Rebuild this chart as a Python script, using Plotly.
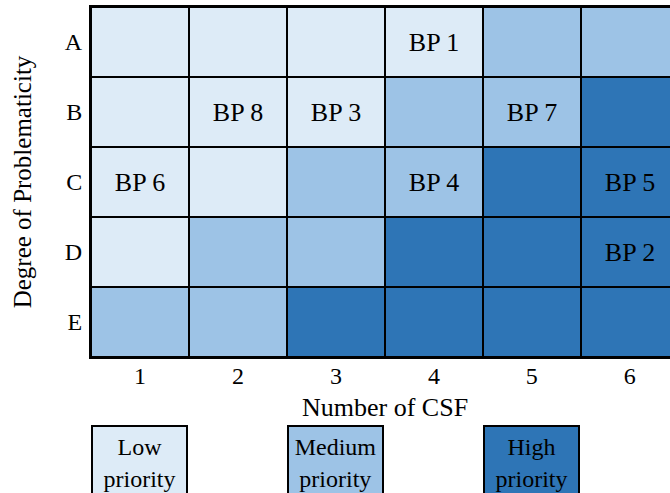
import plotly.graph_objects as go

# ---- data ----
csf_numbers = [1, 2, 3, 4, 5, 6]
csf_labels = ["1", "2", "3", "4", "5", "6"]
problem_levels = ["A", "B", "C", "D", "E"]
# priority: 0 = low, 1 = medium, 2 = high
priority = [
    [0, 0, 0, 0, 1, 1],
    [0, 0, 0, 1, 1, 2],
    [0, 0, 1, 1, 2, 2],
    [0, 1, 1, 2, 2, 2],
    [1, 1, 2, 2, 2, 2],
]
bp_labels = [
    ["", "", "", "BP 1", "", ""],
    ["", "BP 8", "BP 3", "", "BP 7", ""],
    ["BP 6", "", "", "BP 4", "", "BP 5"],
    ["", "", "", "", "", "BP 2"],
    ["", "", "", "", "", ""],
]
legend_names = ["Low<br>priority", "Medium<br>priority", "High<br>priority"]
legend_columns = [1, 3, 5]

colors = ["#DDEBF7", "#9DC3E6", "#2E75B6"]
FONT = "Liberation Serif, Times New Roman, serif"

fig = go.Figure()

# black underlay that shows through the cell gaps as grid lines
fig.add_trace(go.Heatmap(
    x=csf_numbers, y=problem_levels,
    z=[[0] * len(csf_numbers) for _ in problem_levels],
    colorscale=[[0, "black"], [1, "black"]], showscale=False,
    hoverinfo="skip",
))

fig.add_trace(go.Heatmap(
    x=csf_numbers, y=problem_levels, z=priority,
    zmin=0, zmax=2,
    colorscale=[[0, colors[0]], [0.5, colors[1]], [1, colors[2]]],
    showscale=False, xgap=2, ygap=2,
    text=bp_labels, texttemplate="%{text}",
    textfont=dict(family=FONT, size=26, color="black"),
    hovertemplate="CSF %{x}, %{y}: %{text}<extra></extra>",
))

main_bottom = 0.2798

fig.update_layout(
    width=670, height=493,
    margin=dict(l=91, r=0, t=7, b=0),
    paper_bgcolor="white", plot_bgcolor="white",
    font=dict(family=FONT, size=24, color="black"),
    xaxis=dict(
        domain=[0, 1], range=[0.5, 6.41],
        tickvals=csf_numbers, ticktext=csf_labels,
        showline=True, linecolor="black", linewidth=2, mirror=True,
        showgrid=False, zeroline=False, ticks="", ticklabelstandoff=-4,
        tickfont=dict(family=FONT, size=24),
        fixedrange=True,
    ),
    yaxis=dict(
        domain=[main_bottom, 1],
        categoryorder="array", categoryarray=problem_levels,
        autorange="reversed",
        showline=True, linecolor="black", linewidth=2,
        showgrid=False, zeroline=False, ticks="", ticklabelstandoff=2,
        tickfont=dict(family=FONT, size=24),
        title=dict(text="Degree of Problematicity", font=dict(family=FONT, size=25), standoff=26),
        fixedrange=True,
    ),
)

# x-axis title centred under the full six-column grid
fig.add_annotation(
    x=3.5, xref="x", y=0.1749, yref="paper",
    text="Number of CSF", showarrow=False,
    font=dict(family=FONT, size=26), yanchor="middle",
)

# priority legend boxes
for name, col, color in zip(legend_names, legend_columns, colors):
    fig.add_annotation(
        x=col, xref="x", y=0.1399, yref="paper",
        xanchor="center", yanchor="top",
        text=name, showarrow=False, align="center", valign="middle",
        width=93, height=72, borderpad=0,
        bgcolor=color, bordercolor="black", borderwidth=2,
        font=dict(family=FONT, size=24),
    )

fig.write_html(
    "out.html",
    config={"displayModeBar": False},
    post_script="document.body.style.margin='0';",
)
